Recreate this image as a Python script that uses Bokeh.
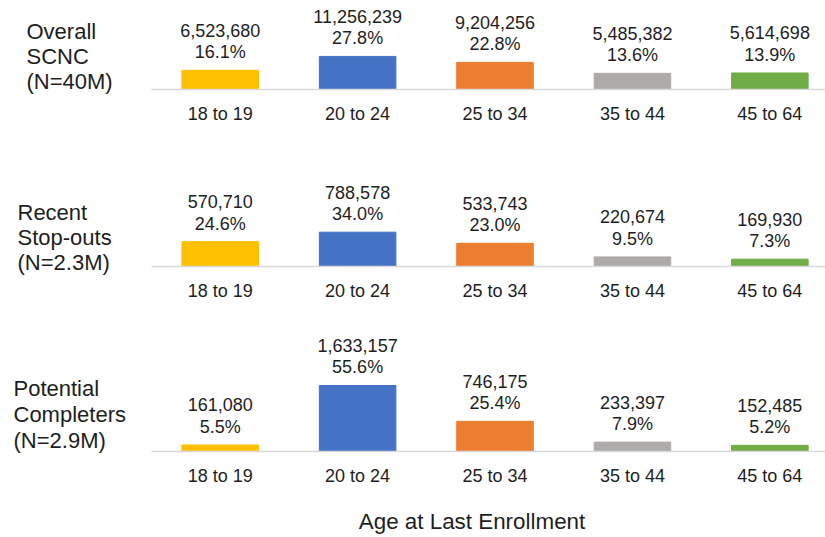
from bokeh.plotting import figure
from bokeh.layouts import column, row
from bokeh.models import Range1d, FixedTicker, Label, ColumnDataSource
from bokeh.embed import file_html
from bokeh.resources import INLINE
from bokeh.core.properties import value

categories = ["18 to 19", "20 to 24", "25 to 34", "35 to 44", "45 to 64"]
colors = ["#FFC000", "#4472C4", "#ED7D31", "#AEAAAA", "#70AD47"]

overall_counts = [6523680, 11256239, 9204256, 5485382, 5614698]
overall_pct = [16.1, 27.8, 22.8, 13.6, 13.9]
recent_counts = [570710, 788578, 533743, 220674, 169930]
recent_pct = [24.6, 34.0, 23.0, 9.5, 7.3]
potential_counts = [161080, 1633157, 746175, 233397, 152485]
potential_pct = [5.5, 55.6, 25.4, 7.9, 5.2]

row_labels = [
    ["Overall", "SCNC", "(N=40M)"],
    ["Recent", "Stop-outs", "(N=2.3M)"],
    ["Potential", "Completers", "(N=2.9M)"],
]
x_title = "Age at Last Enrollment"

FONT = "Liberation Sans"
TXT = "#1e1e1e"
LEFT = 151
CW = 825 - LEFT
TOP_H = 490


def blank(w, h):
    f = figure(width=w, height=h, output_backend="svg", toolbar_location=None,
               x_range=Range1d(0, 1), y_range=Range1d(0, 1),
               min_border_left=0, min_border_right=0, min_border_top=0,
               min_border_bottom=0)
    f.axis.visible = False
    f.grid.visible = False
    f.outline_line_color = None
    return f


rows_cfg = [
    # counts, pct, fig height, border bottom, y_end
    (overall_counts, overall_pct, 150, 61, 74.8),
    (recent_counts, recent_pct, 180, 64, 114.9),
    (potential_counts, potential_pct, 160, 39, 101.9),
]
label_pos = [
    (26, [459, 434, 409]),
    (17, [278, 253, 228]),
    (13, [102, 76, 50]),
]

lf = blank(LEFT, TOP_H)
for r, (lx, lys) in enumerate(label_pos):
    for t, ly in zip(row_labels[r], lys):
        lf.add_layout(Label(x=lx, y=ly, x_units="screen", y_units="screen",
                            text=t, text_font=FONT, text_font_size="22px",
                            text_color=TXT, text_baseline="middle",
                            text_align="left"))

charts = []
for r, (counts, pct, h, bb, yend) in enumerate(rows_cfg):
    p = figure(width=CW, height=h, output_backend="svg", toolbar_location=None,
               x_range=Range1d(-0.5, 4.405), y_range=Range1d(0, yend),
               min_border_left=0, min_border_right=0, min_border_top=0,
               min_border_bottom=bb)
    p.outline_line_color = None
    p.xgrid.visible = False
    p.ygrid.visible = False
    p.yaxis.visible = False
    src = ColumnDataSource(dict(
        x=list(range(len(categories))), top=pct, color=colors,
        cnt=[f"{c:,}" for c in counts], pc=[f"{v:.1f}%" for v in pct]))
    p.vbar(x="x", top="top", bottom=0, width=0.557, color="color", source=src)
    p.text(x="x", y="top", text="pc", source=src, text_align="center",
           text_baseline="middle", y_offset=-18, text_font=value(FONT),
           text_font_size="18px", text_color=TXT)
    p.text(x="x", y="top", text="cnt", source=src, text_align="center",
           text_baseline="middle", y_offset=-40, text_font=value(FONT),
           text_font_size="18px", text_color=TXT)
    ax = p.xaxis[0]
    ax.ticker = FixedTicker(ticks=list(range(len(categories))))
    ax.major_label_overrides = {i: c for i, c in enumerate(categories)}
    ax.major_tick_line_color = None
    ax.minor_tick_line_color = None
    ax.major_tick_in = 0
    ax.major_tick_out = 0
    ax.axis_line_color = "#D9D9D9"
    ax.axis_line_width = 1.5
    ax.major_label_standoff = 14
    ax.major_label_text_font = FONT
    ax.major_label_text_font_size = "18px"
    ax.major_label_text_color = TXT
    charts.append(p)

tf = blank(825, 47)
tf.add_layout(Label(x=471.5, y=16, x_units="screen", y_units="screen",
                    text=x_title, text_font=FONT, text_font_size="22.4px",
                    text_color=TXT, text_baseline="middle", text_align="center"))

layout = column(row(lf, column(*charts, spacing=0), spacing=0), tf, spacing=0)
open("out.html", "w").write(file_html(layout, INLINE))
